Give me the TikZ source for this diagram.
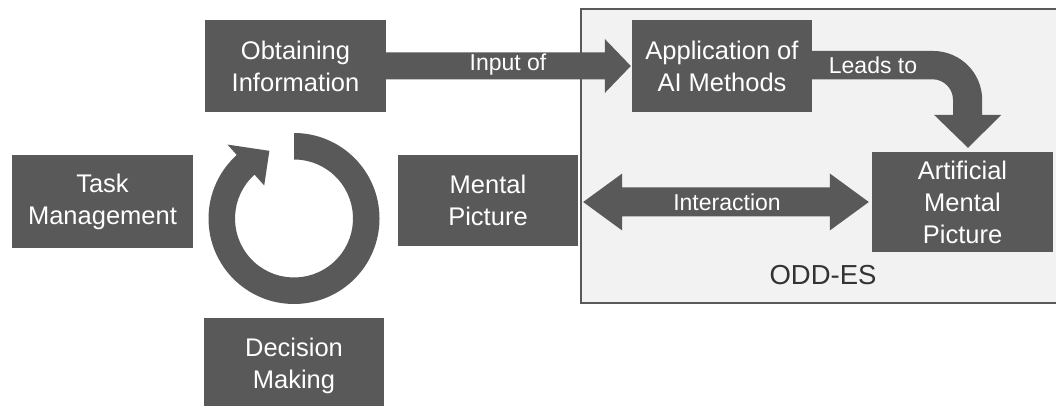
\documentclass[tikz,border=0pt]{standalone}
\usepackage{fontspec}
\setmainfont{Liberation Sans}
\usetikzlibrary{calc}
\definecolor{boxgray}{HTML}{595959}
\definecolor{framefill}{HTML}{F2F2F2}
\definecolor{labeldark}{HTML}{333333}
\begin{document}
\begin{tikzpicture}[x=1pt,y=1pt,
  blk/.style={fill=boxgray, text=white, align=center, inner sep=0pt,
    font=\fontsize{25.5}{32}\selectfont, minimum width=181pt, minimum height=92pt},
  arrowfill/.style={fill=boxgray},
  albl/.style={text=white, font=\fontsize{23}{28}\selectfont, inner sep=0pt},
  framebox/.style={fill=framefill, draw=boxgray, line width=1.5pt}]
\useasboundingbox (0,0) rectangle (1056,406);
\clip (0,0) rectangle (1056,406);
% ODD-ES frame
\draw[framebox] (581,103) rectangle (1070,397);
\node[text=labeldark, font=\fontsize{27.5}{32}\selectfont, inner sep=0pt] (odd) at (823,131) {ODD-ES};
% boxes
\node[blk] (obt) at (295.5,340) {Obtaining\\Information};
\node[blk, minimum height=93pt] (task) at (102.5,204.5) {Task\\Management};
\node[blk, minimum width=180pt, minimum height=96pt] (dec) at (294,40) {Decision\\Making};
\node[blk, minimum width=180pt, minimum height=91pt] (mp) at (488,205.5) {Mental\\Picture};
\node[blk, minimum width=180pt] (app) at (722,340) {Application of\\AI Methods};
\node[blk, minimum height=100pt] (amp) at (962.5,204) {Artificial\\Mental\\Picture};
% Input of arrow
\fill[arrowfill] ($(obt.east)+(0,13.5)$) -- ($(app.west)+(-27,13.5)$) -- ($(app.west)+(-27,27)$)
  -- ($(app.west)+(-1,0)$) -- ($(app.west)+(-27,-27)$) -- ($(app.west)+(-27,-13.5)$)
  -- ($(obt.east)+(0,-13.5)$) -- cycle;
\node[albl] (inl) at (508,341) {Input of};
% Interaction double arrow
\coordinate (il) at ($(mp.east|-amp.west)+(5,0)$);
\coordinate (ir) at ($(amp.west)+(-3,0)$);
\fill[arrowfill] (il) -- ($(il)+(39,28.5)$) -- ($(il)+(39,14.5)$) -- ($(ir)+(-39,14.5)$)
  -- ($(ir)+(-39,28.5)$) -- (ir) -- ($(ir)+(-39,-28.5)$) -- ($(ir)+(-39,-14.5)$)
  -- ($(il)+(39,-14.5)$) -- ($(il)+(39,-28.5)$) -- cycle;
\node[albl] (intl) at (727,204) {Interaction};
% Leads to curved arrow
\coordinate (ltip) at ($(amp.north)+(5.5,4)$);
\fill[arrowfill] ($(app.east)+(0,15)$) -- ++(121,0) arc[start angle=90,end angle=0,radius=49]
  -- ++(0,-15) -- ++(19,0) -- (ltip) -- ++(-34,33) -- ++(19,0) -- ++(0,15)
  arc[start angle=0,end angle=90,radius=20.5] -- ($(app.east)+(0,-13.5)$) -- cycle;
\node[albl] (ldl) at (873,341) {Leads to};
% circular arrow
\coordinate (cc) at (294,187.5);
\fill[arrowfill] ($(cc)+(90:85.5)$) arc[start angle=90,end angle=-228,radius=85.5]
  -- ($(cc)+(132:99.5)$) -- ($(cc)+(110:72)$) -- ($(cc)+(132:44.5)$) -- ($(cc)+(132:59)$)
  arc[start angle=-228,end angle=90,radius=59] -- cycle;
\end{tikzpicture}
\end{document}
